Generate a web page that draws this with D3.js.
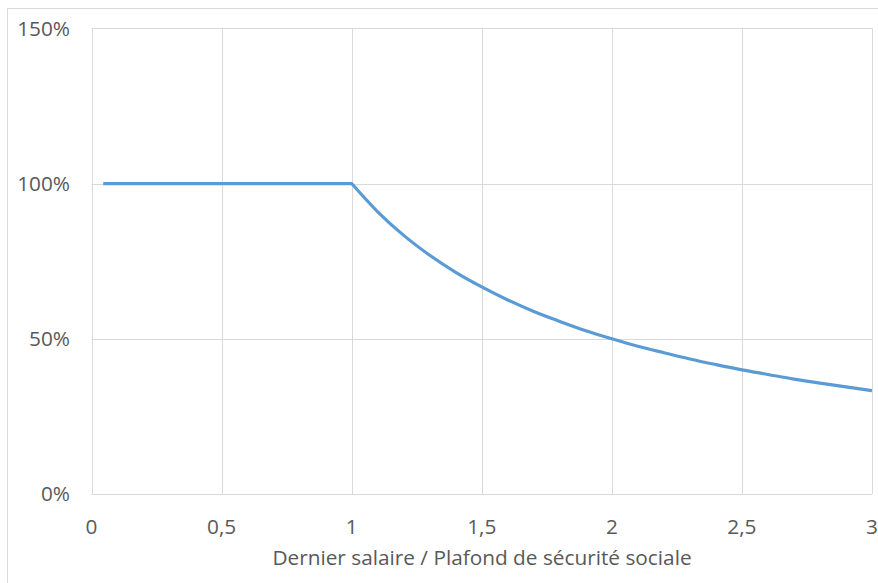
<!DOCTYPE html>
<html><head><meta charset="utf-8">
<script src="https://cdn.jsdelivr.net/npm/d3@7"></script>
<style>
body{margin:0;background:#fff;}
text{font-family:"Open Sans",sans-serif;fill:#595959;}
</style></head>
<body>
<svg id="c" width="878" height="583"></svg>
<script>
const xValues = [0.045, 1, 1.1, 1.2, 1.3, 1.4, 1.5, 1.6, 1.7, 1.8, 1.9, 2, 2.1, 2.2, 2.3, 2.4, 2.5, 2.6, 2.7, 2.8, 2.9, 3];
const yValues = [1, 1, 0.909, 0.833, 0.769, 0.714, 0.667, 0.625, 0.588, 0.556, 0.526, 0.5, 0.476, 0.455, 0.435, 0.417, 0.4, 0.385, 0.37, 0.357, 0.345, 0.333];
const xTicks = [0, 0.5, 1, 1.5, 2, 2.5, 3];
const yTicks = [0, 0.5, 1, 1.5];
const xTitle = "Dernier salaire / Plafond de sécurité sociale";

const svg = d3.select("#c");
svg.append("rect").attr("x",7.5).attr("y",8.5).attr("width",880).attr("height",590)
  .attr("fill","none").attr("stroke","#d9d9d9").attr("stroke-width",1);

const x = d3.scaleLinear().domain([0,3]).range([91.5,872]);
const y = d3.scaleLinear().domain([0,1.5]).range([494,28.3]);

const fmtX = d => d3.format("")(d).replace(".", ",");
const fmtY = d => Math.round(d*100) + "%";

svg.append("g").selectAll("line").data(yTicks).join("line")
  .attr("x1",x(0)).attr("x2",x(3))
  .attr("y1",d=>Math.round(y(d))+0.5).attr("y2",d=>Math.round(y(d))+0.5)
  .attr("stroke","#d9d9d9").attr("stroke-width",1);
svg.append("g").selectAll("line").data(xTicks).join("line")
  .attr("x1",d=>Math.round(x(d))+0.5).attr("x2",d=>Math.round(x(d))+0.5)
  .attr("y1",y(1.5)).attr("y2",y(0))
  .attr("stroke","#d9d9d9").attr("stroke-width",1);

const fs = 20.8;
svg.append("g").selectAll("text").data(yTicks).join("text")
  .attr("x",70).attr("y",d=>y(d)).attr("dy","0.35em").attr("text-anchor","end")
  .attr("font-size",fs).text(fmtY);
svg.append("g").selectAll("text").data(xTicks).join("text")
  .attr("x",d=>x(d)).attr("y",527).attr("dy","0.35em").attr("text-anchor","middle")
  .attr("font-size",fs).text(fmtX);
svg.append("text").attr("x",482).attr("y",558).attr("dy","0.35em").attr("text-anchor","middle")
  .attr("font-size",fs).text(xTitle);

const data = xValues.map((v,i)=>[v,yValues[i]]);
const kink = xValues.indexOf(1);
const flat = d3.line().x(d=>x(d[0])).y(d=>y(d[1]))(data.slice(0,kink+1));
const curved = d3.line().x(d=>x(d[0])).y(d=>y(d[1])).curve(d3.curveMonotoneX)(data.slice(kink));
svg.append("path")
  .attr("fill","none").attr("stroke","#5b9bd5").attr("stroke-width",3.2)
  .attr("stroke-linejoin","round")
  .attr("d", flat + curved.replace(/^M[^A-Za-z]*/, ""));
</script>
</body></html>
